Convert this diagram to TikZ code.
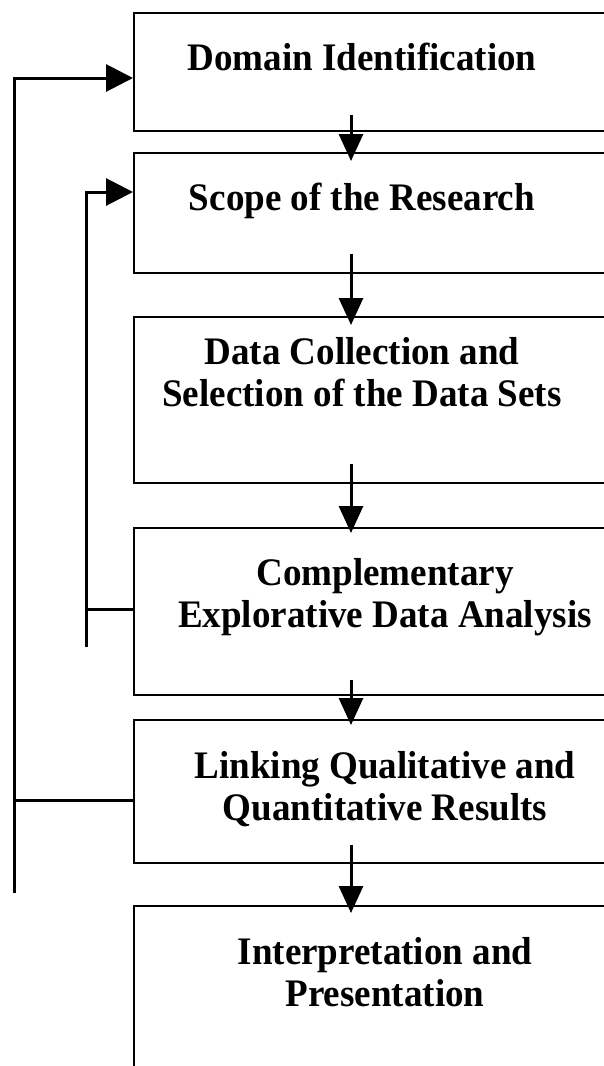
\documentclass[tikz,border=0pt]{standalone}
\usepackage{fontspec}
\setmainfont{Liberation Serif}
\newfontfamily\lbfont{Liberation Serif}[FakeStretch=0.95]
\usetikzlibrary{arrows.meta}
\begin{document}
\begin{tikzpicture}[x=1pt,y=-1pt,
 box/.style={draw, line width=2pt, rectangle, inner sep=0pt, anchor=north west, minimum width=507pt},
 lbl/.style={font=\lbfont\fontsize{39}{42}\selectfont\bfseries, align=center, inner sep=0pt, anchor=base},
 conn/.style={line width=3pt},
 arr/.style={conn, -{Triangle[length=27pt,width=24pt]}},
 harr/.style={conn, -{Triangle[length=27pt,width=27pt]}}]
\useasboundingbox (0,0) rectangle (604,1066);
\node[box, minimum height=118pt] (b1) at (133,12) {};
\node[box, minimum height=120pt] (b2) at (133,152) {};
\node[box, minimum height=166pt] (b3) at (133,316) {};
\node[box, minimum height=167pt] (b4) at (133,527) {};
\node[box, minimum height=143pt] (b5) at (133,719) {};
\node[box, minimum height=180pt] (b6) at (133,905) {};
\node[lbl] (t1) at (362,70) {Domain Identification};
\node[lbl] (t2) at (362,210) {Scope of the Research};
\node[lbl] (t3) at (362,406) {Data Collection and\\Selection of the Data Sets};
\node[lbl] (t4) at (385,627) {Complementary\\Explorative Data Analysis};
\node[lbl] (t5) at (385,820) {Linking Qualitative and\\Quantitative Results};
\node[lbl] (t6) at (385,1006) {Interpretation and\\Presentation};
\foreach \a/\b/\s/\o in {b1/b2/17/9, b2/b3/20/9, b3/b4/20/6, b4/b5/16/6, b5/b6/19/8}{
  \draw[arr] ([xshift=-36.5pt,yshift=\s pt]\a.south) -- ([xshift=-36.5pt,yshift=-\o pt]\b.north);
}
\coordinate (o1) at (14,893);
\coordinate (i1) at (86,647);
\coordinate (e1) at ([yshift=-6pt]b1.west);
\coordinate (e2) at ([yshift=21pt]b2.west);
\coordinate (e4) at ([yshift=2.5pt]b4.west);
\coordinate (e5) at ([yshift=-8.5pt]b5.west);
\draw[harr] (o1) |- (e1);
\draw[conn] (e5) -- (o1 |- e5);
\draw[harr] (i1) |- (e2);
\draw[conn] (e4) -- (i1 |- e4);
\end{tikzpicture}
\end{document}
